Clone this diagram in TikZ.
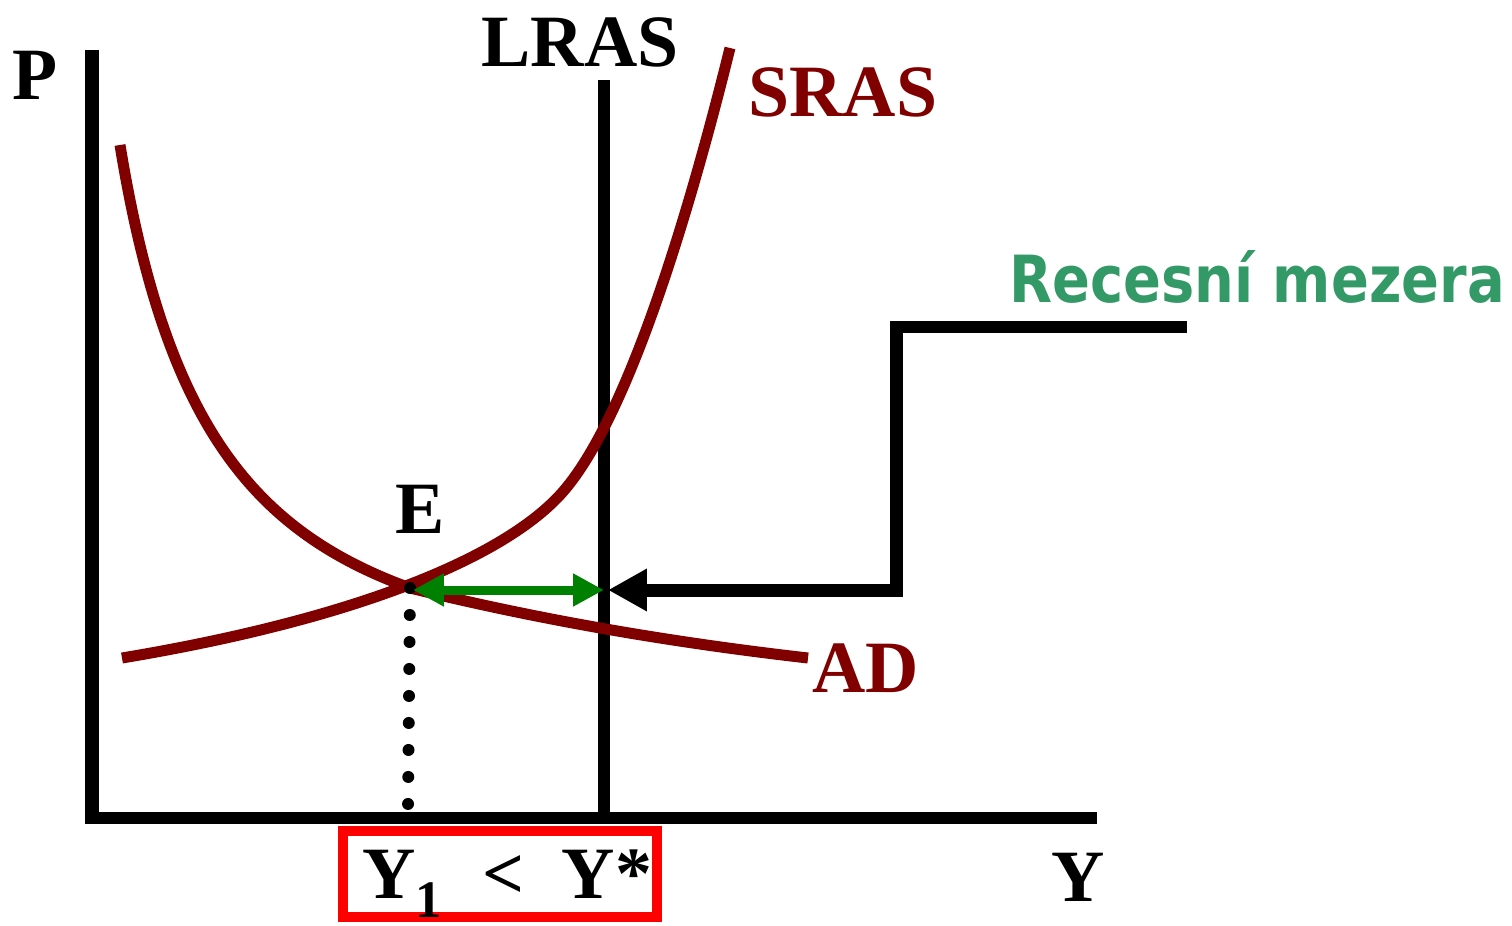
\documentclass[tikz,border=0pt]{standalone}
\usepackage{fontspec}
\setmainfont{Liberation Serif}
\newfontfamily\gapfont{DejaVu Sans}
\usetikzlibrary{arrows.meta}
\definecolor{curvered}{HTML}{800000}
\definecolor{gapgreen}{HTML}{339966}
\definecolor{shiftgreen}{HTML}{008000}

\begin{document}
\begin{tikzpicture}[
            x=0.02cm, y=-0.02cm,
            axis/.style={draw=black, line width=0.27cm},
            curve/.style={draw=curvered, line width=0.22cm},
            title/.style={inner sep=0pt, font=\bfseries\fontsize{42}{48}\selectfont},
            redtitle/.style={title, text=curvered},
            gaplabel/.style={inner sep=0pt, text=gapgreen, font=\gapfont\bfseries\fontsize{37}{42}\selectfont},
            gapbox/.style={draw=red, line width=0.2cm, minimum width=6.28cm, minimum height=1.72cm,
                           inner sep=0pt, text depth=0pt}
        ]
        \useasboundingbox (0,0) rectangle (1512,926);

        \coordinate (ptop)  at (92, 50);
        \coordinate (pbot)  at (92, 824);
        \coordinate (ystart) at (86, 818);
        \coordinate (yend)  at (1097, 818);
        \coordinate (ltop)  at (604, 80);
        \coordinate (lbot)  at (604, 812);
        \coordinate (E)     at (410, 588);
        \coordinate (Ebot)  at (408, 808);
        \coordinate (gapE)  at (413, 590);
        \coordinate (gap)   at (604, 590);
        \coordinate (gapin) at (608, 590);
        \coordinate (step1) at (1187, 327);
        \coordinate (step2) at (896, 327);
        \coordinate (step3) at (896, 590);

        \node[title]      (P)    at (35, 75)     {P};
        \node[title]      (Y)    at (1078, 877)  {Y};
        \node[title]      (lras) at (580, 42)    {LRAS};
        \node[redtitle]   (sras) at (843, 92)    {SRAS};
        \node[redtitle]   (ad)   at (866, 668)   {AD};
        \node[title]      (Elab) at (420, 509)   {E};
        \node[gaplabel]   (rec)  at (1257, 277)  {\scalebox{0.86}[1]{Recesní mezera}};
        \node[gapbox, title] (ybox) at (500, 874)
            {\hspace{0.2em}Y\raisebox{-0.26em}{\fontsize{30}{32}\selectfont 1}\hspace{0.55em}<\hspace{0.5em}Y*};

        \draw[axis] (ptop) -- (pbot);
        \draw[axis, line width=0.24cm] (ystart) -- (yend);
        \draw[axis, line width=0.24cm] (ltop) -- (lbot);

        \draw[curve] (120, 145) .. controls (165, 420) and (250, 530) .. (E)
                     .. controls (520, 615) and (650, 640) .. (808, 658);
        \draw[curve] (122, 658) .. controls (350, 620) and (500, 560) .. (560, 495)
                     .. controls (620, 430) and (680, 250) .. (730, 48);

        \draw[line width=0.24cm, line cap=round, dash pattern=on 0pt off 0.54cm] (E) -- (Ebot);

        \draw[shiftgreen, line width=0.18cm,
              {Triangle[length=0.62cm, width=0.62cm]}-{Triangle[length=0.62cm, width=0.62cm]}]
              (gapE) -- (gap);

        \draw[line width=0.26cm, -{Triangle[length=0.78cm, width=0.8cm]}]
              (step1) -- (step2) -- (step3) -- (gapin);
        \end{tikzpicture}
\end{document}
